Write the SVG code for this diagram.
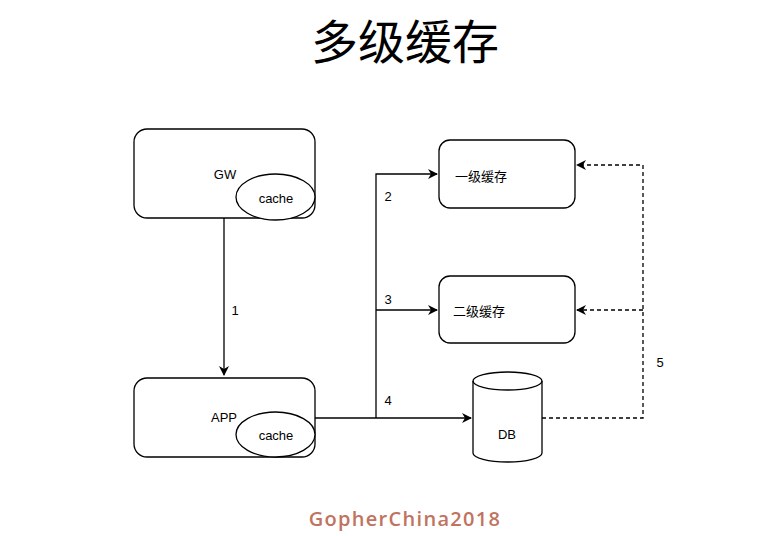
<svg xmlns="http://www.w3.org/2000/svg" width="760" height="536" viewBox="0 0 760 536">
<style>
.box{fill:#fff;stroke:#000;stroke-width:1.3}
.t{font-family:"Liberation Sans",Arial,sans-serif;font-size:13px;fill:#000;text-anchor:middle;dominant-baseline:central}
.cn{font-family:"Noto Sans CJK SC",sans-serif;font-size:13px;fill:#000;text-anchor:middle;dominant-baseline:central}
.ln{fill:none;stroke:#000;stroke-width:1.3}
.dl{fill:none;stroke:#000;stroke-width:1.3;stroke-dasharray:4 3}
</style>
<defs>
<marker id="ah2" viewBox="0 0 10 10" refX="9" refY="5" markerWidth="10" markerHeight="10" markerUnits="userSpaceOnUse" orient="auto"><path d="M0,0 L10,5 L0,10 L3,5 Z" fill="#000"/></marker>
</defs>
<rect width="760" height="536" fill="#fff"/>
<text x="405" y="38" font-family="Noto Sans CJK SC,sans-serif" font-size="47" text-anchor="middle" dominant-baseline="central">多级缓存</text>
<g id="connectors">
<path class="ln" d="M224,218 V375" marker-end="url(#ah2)"/>
<path class="ln" d="M315,418 H471" marker-end="url(#ah2)"/>
<path class="ln" d="M376,418 V174 H437" marker-end="url(#ah2)"/>
<path class="ln" d="M376,310 H437" marker-end="url(#ah2)"/>
<path class="dl" d="M542,418 H643 V165 H577" marker-end="url(#ah2)"/>
<path class="dl" d="M643,310 H577" marker-end="url(#ah2)"/>
<text class="t" x="235" y="310">1</text>
<text class="t" x="388" y="196">2</text>
<text class="t" x="388" y="299">3</text>
<text class="t" x="388" y="400">4</text>
<text class="t" x="660" y="362">5</text>
</g>
<g id="gw">
<rect class="box" x="134" y="129" width="181" height="89" rx="13"/>
<text class="t" x="225" y="174">GW</text>
<ellipse class="box" cx="275.5" cy="197" rx="39.5" ry="23"/>
<text class="t" x="276" y="198">cache</text>
</g>
<g id="app">
<rect class="box" x="134" y="378" width="181" height="79" rx="13"/>
<text class="t" x="224" y="417">APP</text>
<ellipse class="box" cx="275.5" cy="434.5" rx="39.5" ry="22.5"/>
<text class="t" x="276" y="435">cache</text>
</g>
<g id="l1">
<rect class="box" x="439" y="140" width="136" height="68" rx="11"/>
<text class="cn" x="481" y="175">一级缓存</text>
</g>
<g id="l2">
<rect class="box" x="439" y="276" width="136" height="67" rx="11"/>
<text class="cn" x="479" y="310">二级缓存</text>
</g>
<g id="db">
<path class="box" d="M473,381 A34.5,9 0 0 1 542,381 V453 A34.5,9 0 0 1 473,453 Z"/>
<path class="ln" d="M473,381 A34.5,9 0 0 0 542,381"/>
<text class="t" x="507" y="434">DB</text>
</g>
<text x="405" y="518" font-family="'Open Sans','DejaVu Sans',sans-serif" font-size="20" font-weight="600" fill="#c0735f" text-anchor="middle" dominant-baseline="central" letter-spacing="1.3">GopherChina2018</text>
</svg>
